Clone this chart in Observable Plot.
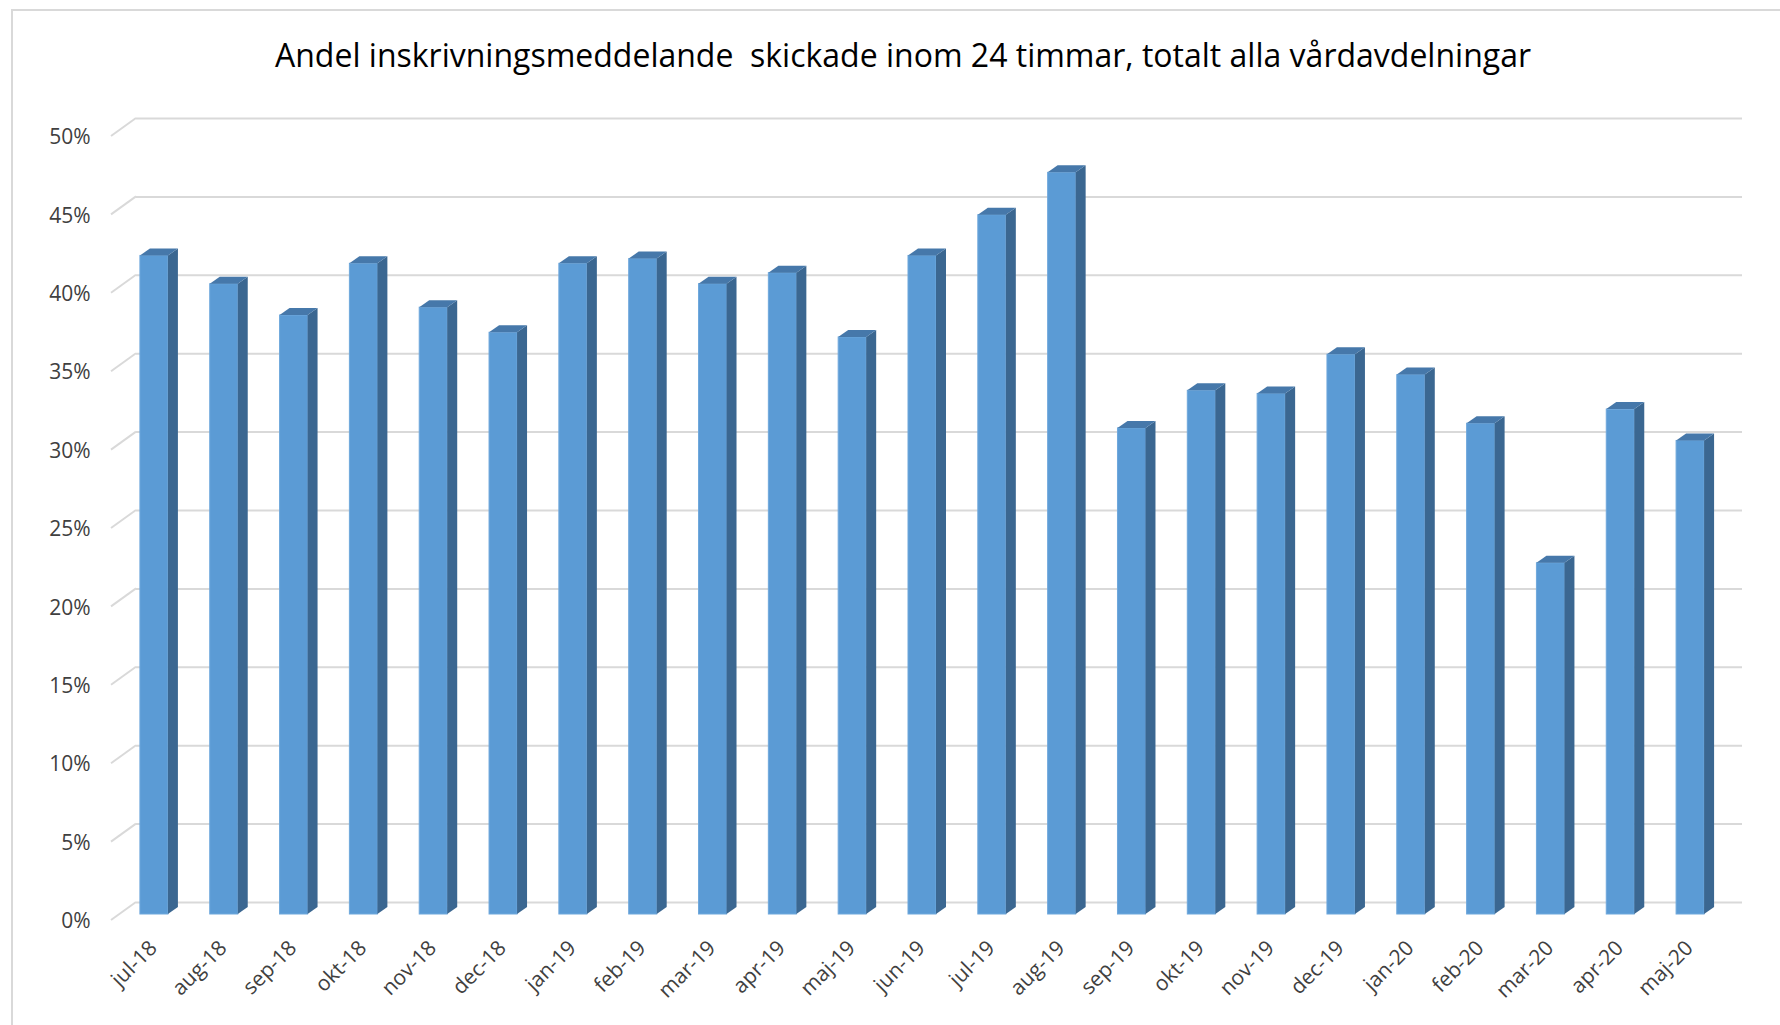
<!DOCTYPE html>
<html>
<head>
<meta charset="utf-8">
<script src="https://cdn.jsdelivr.net/npm/d3@7"></script>
<script src="https://cdn.jsdelivr.net/npm/@observablehq/plot@0.6"></script>
<style>
  html, body { margin: 0; padding: 0; background: #fff; }
  #wrap { position: relative; width: 1780px; height: 1025px; overflow: hidden; background: #fff; }
  #frame { position: absolute; left: 11px; top: 9px; width: 1800px; height: 1100px; border: 2px solid #d9d9d9; box-sizing: border-box; }
  #title { position: absolute; left: 26px; top: 0; width: 1754px; height: 110px; line-height: 110px; text-align: center;
           font-family: "Open Sans", sans-serif; font-size: 32px; color: #000; white-space: pre; }
  #chart { position: absolute; left: 0; top: 100px; }
</style>
</head>
<body>
<div id="wrap">
  <div id="frame"></div>
  <div id="title">Andel inskrivningsmeddelande  skickade inom 24 timmar, totalt alla vårdavdelningar</div>
  <div id="chart"></div>
</div>
<script>
// ---- data ----
const months = ["jul-18","aug-18","sep-18","okt-18","nov-18","dec-18","jan-19","feb-19","mar-19","apr-19","maj-19","jun-19",
                "jul-19","aug-19","sep-19","okt-19","nov-19","dec-19","jan-20","feb-20","mar-20","apr-20","maj-20"];
const shares = [42.0, 40.2, 38.2, 41.5, 38.7, 37.1, 41.5, 41.8, 40.2, 40.9, 36.8, 42.0,
                44.6, 47.3, 31.0, 33.4, 33.2, 35.7, 34.4, 31.3, 22.4, 32.2, 30.2];
const yTicks = [0, 5, 10, 15, 20, 25, 30, 35, 40, 45, 50];

const data = months.map((m, i) => ({month: m, value: shares[i]}));

// ---- style constants ----
const FRONT_W = 28, SHIFT = -17, DEPTH_X = 10, DEPTH_Y = 7;
const BACK_DY = -12, STUB_DX = 25, STUB_DY = 6;

function stubs(index, scales, values, dimensions) {
  const y = scales.y;
  const g = d3.create("svg:g");
  const x0 = dimensions.marginLeft;
  for (const t of yTicks) {
    const yy = y(t);
    g.append("line")
      .attr("x1", x0 - STUB_DX).attr("y1", yy + STUB_DY)
      .attr("x2", x0).attr("y2", yy + BACK_DY)
      .attr("stroke", "#d9d9d9").attr("stroke-width", 2);
  }
  return g.node();
}

function depth(index, scales, values, dimensions) {
  const x = scales.x, y = scales.y;
  const step = x(months[1]) - x(months[0]);
  const g = d3.create("svg:g");
  data.forEach(d => {
    const c = x(d.month) + step / 2 + SHIFT;
    const xl = c - FRONT_W / 2, xr = c + FRONT_W / 2;
    const y0 = y(0), y1 = y(d.value);
    const side = [[xr, y0], [xr, y1], [xr + DEPTH_X, y1 - DEPTH_Y], [xr + DEPTH_X, y0 - DEPTH_Y]];
    const top = [[xl, y1], [xr, y1], [xr + DEPTH_X, y1 - DEPTH_Y], [xl + DEPTH_X, y1 - DEPTH_Y]];
    g.append("polygon").attr("points", side.join(" ")).attr("fill", "#3B6791");
    g.append("polygon").attr("points", top.join(" ")).attr("fill", "#4678AA");
  });
  return g.node();
}

const width = 1780, height = 925;
const marginLeft = 136, marginRight = 38;
const bw = (width - marginLeft - marginRight) / months.length;
const inset = (bw - FRONT_W) / 2;

const chart = Plot.plot({
  width, height,
  marginLeft, marginRight, marginTop: 30, marginBottom: 111,
  style: {fontFamily: "'Open Sans', sans-serif", color: "#404040", background: "transparent"},
  x: {domain: months, padding: 0, round: false, axis: null},
  y: {domain: [0, 50], axis: null},
  marks: [
    Plot.gridY({ticks: yTicks, dy: BACK_DY, stroke: "#d9d9d9", strokeOpacity: 1, strokeWidth: 2}),
    stubs,
    Plot.barY(data, {x: "month", y: "value", fill: "#5B9BD5", stroke: "#6FA8DC", strokeWidth: 1,
                     insetLeft: inset, insetRight: inset, dx: SHIFT}),
    depth,
    Plot.axisY({ticks: yTicks, tickSize: 0, tickPadding: 46, dy: 7, fontSize: 21, label: null,
                tickFormat: d => d + "%"}),
    Plot.axisX({tickRotate: -45, tickSize: 0, tickPadding: 30, dx: -18, fontSize: 21, label: null})
  ]
});
document.getElementById("chart").appendChild(chart);
</script>
</body>
</html>
